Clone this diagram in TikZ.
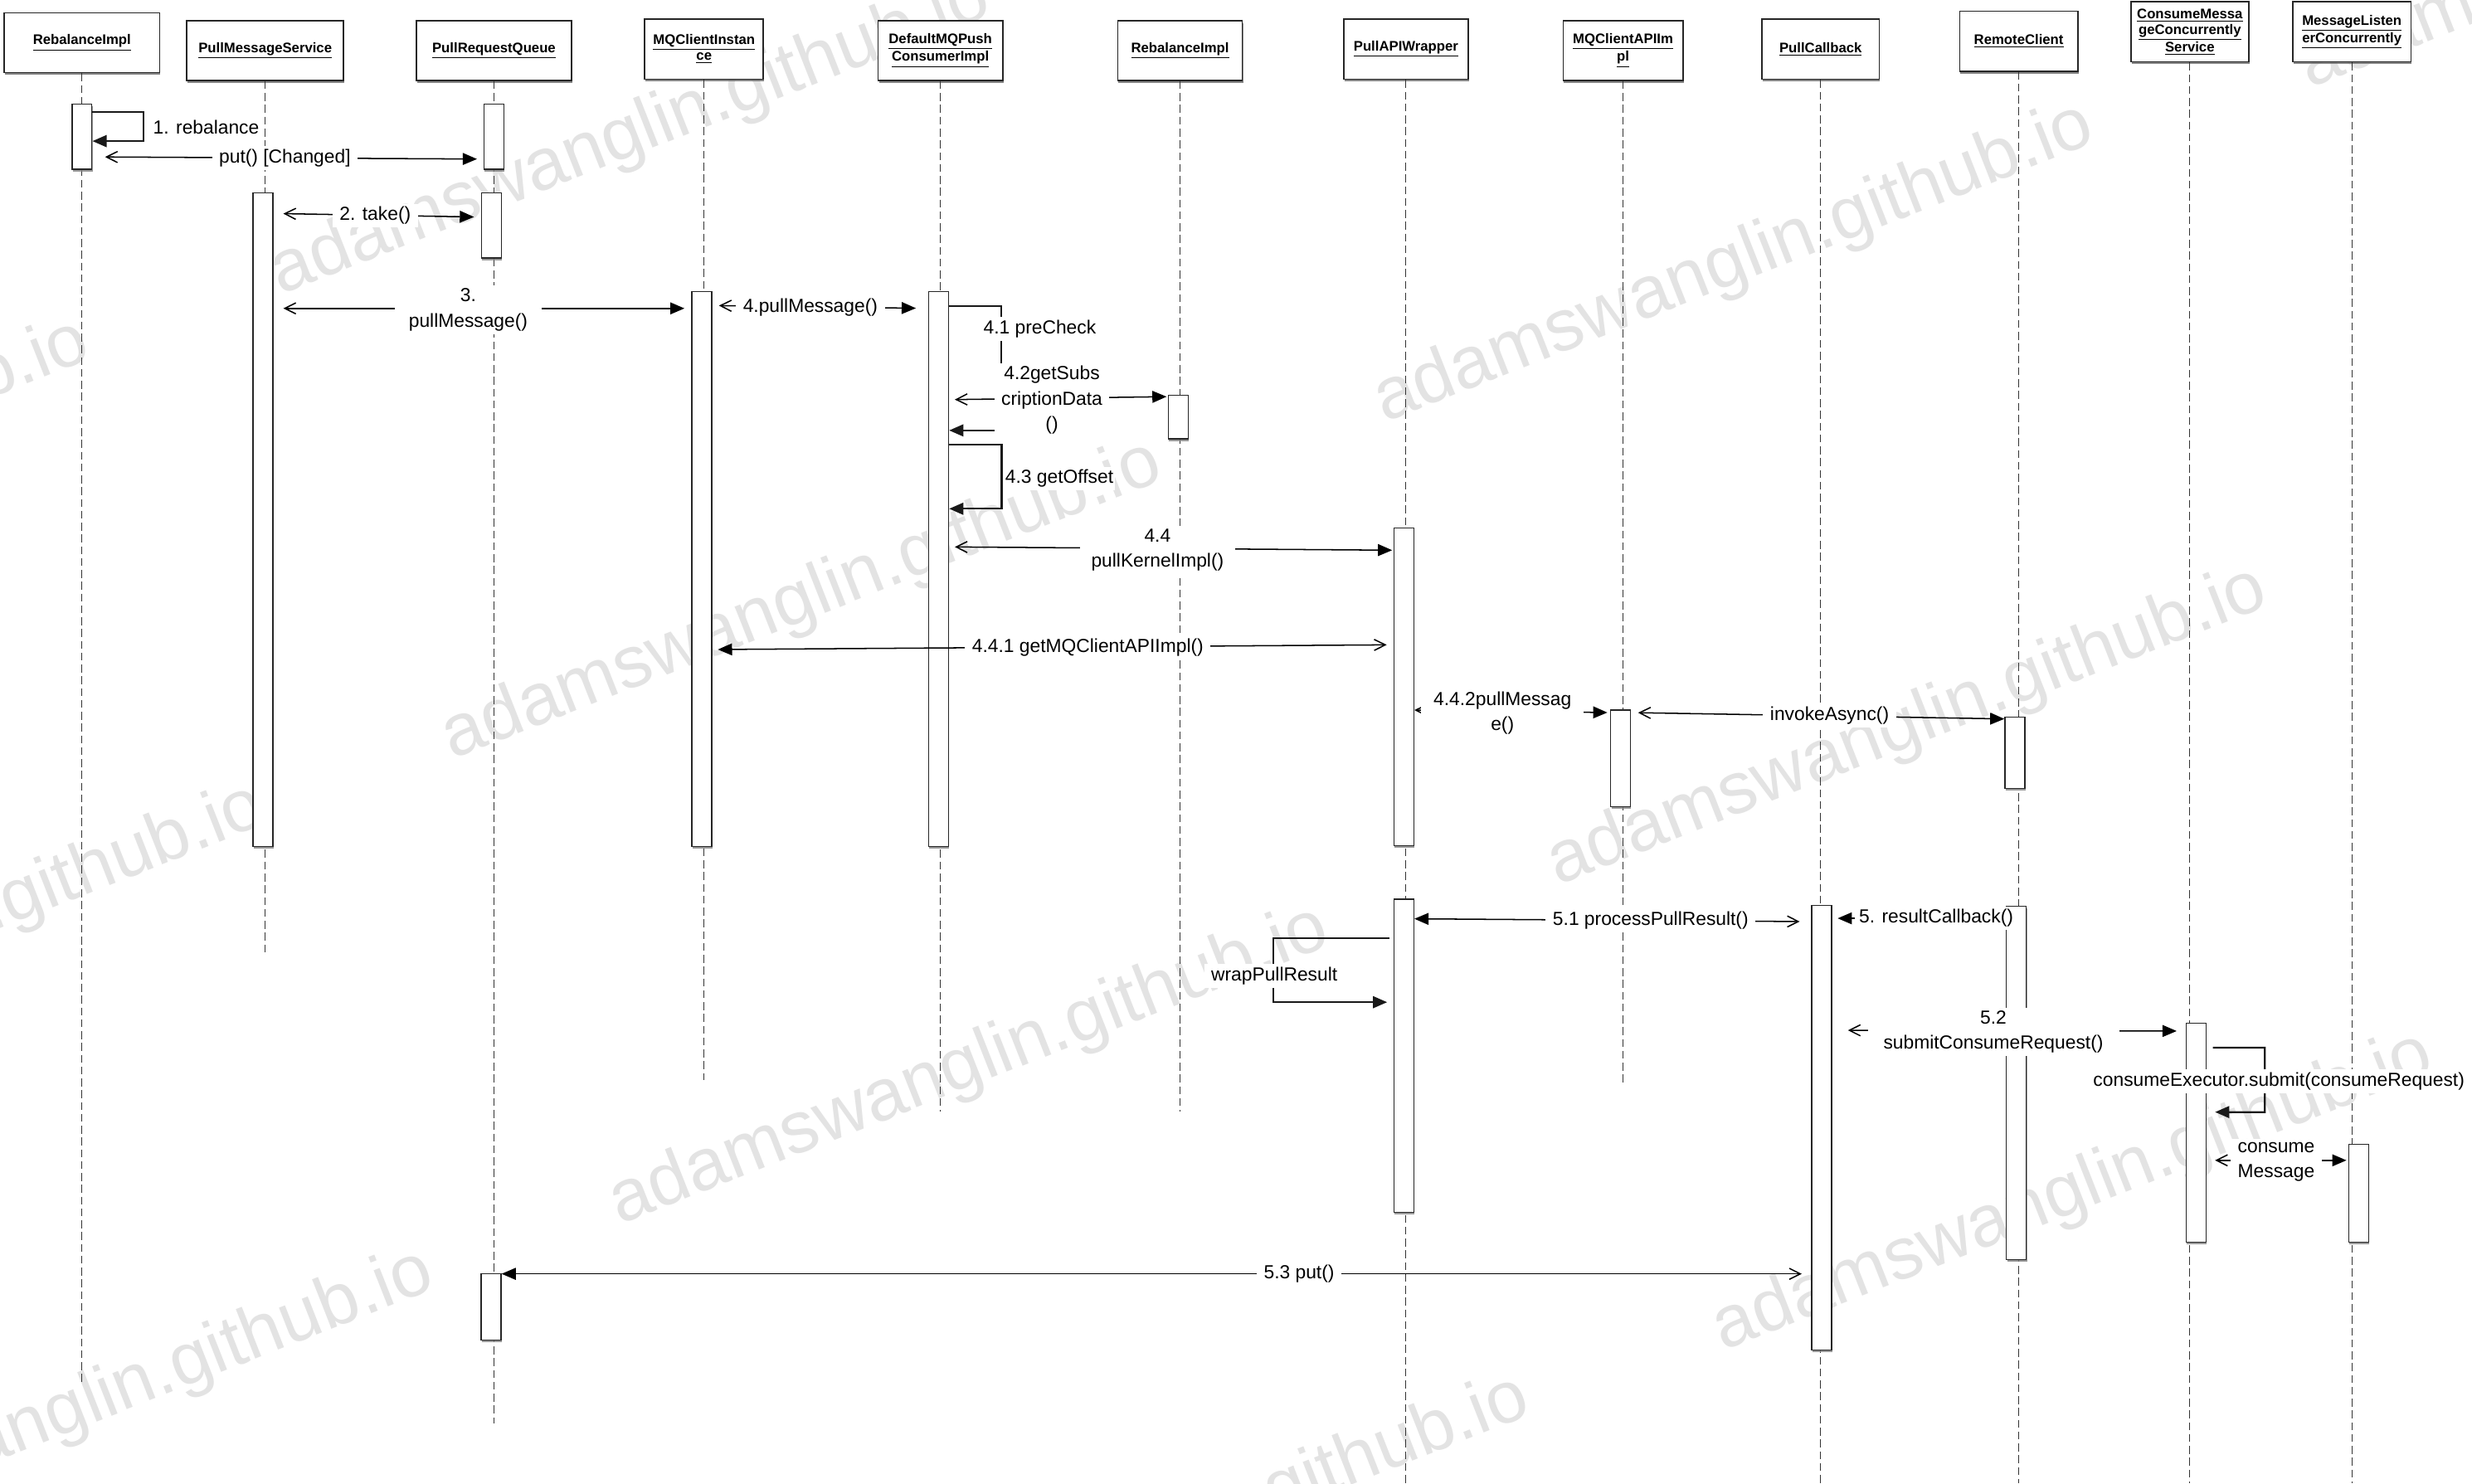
\documentclass[tikz,border=0pt]{standalone}
\usepackage{fontspec}
\setmainfont{Liberation Sans}
\usetikzlibrary{arrows.meta,shadows}
\newcommand\lblsize{\fontsize{12}{16}\selectfont}
\newcommand\hdrsize{\fontsize{8.8}{10}\selectfont\bfseries}
\newcommand\wmsize{\fontsize{46.5}{50}\selectfont}
\begin{document}
\begin{tikzpicture}[x=1pt,y=-1pt,
  hdr/.style={draw=black!85, line width=0.9pt, fill=white,
    drop shadow={shadow xshift=0.5pt, shadow yshift=-1.5pt, fill=black!60, opacity=0.8},
    minimum height=38pt, align=center, font=\hdrsize, inner sep=1pt},
  actbox/.style={draw=black!85, line width=0.7pt, fill=white,
    drop shadow={shadow xshift=0.4pt, shadow yshift=-1.3pt, fill=black!50, opacity=0.8},
    minimum width=12.6pt, inner sep=0pt},
  lifeline/.style={black!80, line width=0.5pt, dash pattern=on 5pt off 2.5pt},
  msg/.style={black, line width=0.8pt},
  selfcall/.style={black!90, line width=1.2pt, -{Triangle[length=9pt,width=7.5pt]}},
  FF/.style={-{Triangle[length=9pt,width=7.5pt]}},
  OF/.style={arrows={Straight Barb[length=7pt,width=7pt]-Triangle[length=9pt,width=7.5pt]}},
  FO/.style={arrows={Triangle[length=9pt,width=7.5pt]-Straight Barb[length=7pt,width=7pt]}},
  lbl/.style={fill=white, inner xsep=4.5pt, inner ysep=2pt, font=\lblsize, align=center},
  wm/.style={text=black!11, font=\wmsize, rotate=21.5, anchor=base west, inner sep=0pt}
]
\useasboundingbox (0,0) rectangle (1568,940.8);

% watermarks
\begin{scope}
\clip (0,0) rectangle (1568,940.8);
\foreach \x/\y [count=\i] in {178/187, 878/268, 287/482, 988/562, 393/777, 1093/857,
   -393/405, -282/700, -175/995, 520/1075, 1465/56}
  \node[wm] (wm\i) at (\x,\y) {adamswanglin.github.io};
\end{scope}

% headers
\node[hdr, minimum width=98.6pt] (h1) at (52,27.1) {\underline{RebalanceImpl}};
\node[hdr, minimum width=99.3pt] (h2) at (168.2,32.1) {\underline{PullMessageService}};
\node[hdr, minimum width=98.6pt] (h3) at (313.3,32.1) {\underline{PullRequestQueue}};
\node[hdr, minimum width=75.2pt] (h4) at (446.6,31.2) {\underline{MQClientInstan}\\\underline{ce}};
\node[hdr, minimum width=79pt] (h5) at (596.5,32.1) {\underline{DefaultMQPush}\\\underline{ConsumerImpl}};
\node[hdr, minimum width=79pt] (h6) at (748.5,32.1) {\underline{RebalanceImpl}};
\node[hdr, minimum width=78.8pt] (h7) at (891.8,31.2) {\underline{PullAPIWrapper}};
\node[hdr, minimum width=75.9pt] (h8) at (1029.5,32.1) {\underline{MQClientAPIIm}\\\underline{pl}};
\node[hdr, minimum width=74.5pt] (h9) at (1154.8,31.2) {\underline{PullCallback}};
\node[hdr, minimum width=75pt] (h10) at (1280.5,26.1) {\underline{RemoteClient}};
\node[hdr, minimum width=74.7pt] (h11) at (1389,20.2) {\underline{ConsumeMessa}\\\underline{geConcurrently}\\\underline{Service}};
\node[hdr, minimum width=74.9pt] (h12) at (1491.8,20.2) {\underline{MessageListen}\\\underline{erConcurrently}};

% lifelines
\draw[lifeline] (h1.south) -- (h1.south |- 0,878);
\draw[lifeline] (h2.south) -- (h2.south |- 0,605);
\draw[lifeline] (h3.south) -- (h3.south |- 0,903);
\draw[lifeline] (h4.south) -- (h4.south |- 0,685);
\draw[lifeline] (h5.south) -- (h5.south |- 0,705);
\draw[lifeline] (h6.south) -- (h6.south |- 0,705);
\draw[lifeline] (h7.south) -- (h7.south |- 0,941);
\draw[lifeline] (h8.south) -- (h8.south |- 0,687);
\draw[lifeline] (h9.south) -- (h9.south |- 0,941);
\draw[lifeline] (h10.south) -- (h10.south |- 0,941);
\draw[lifeline] (h11.south) -- (h11.south |- 0,941);
\draw[lifeline] (h12.south) -- (h12.south |- 0,941);

% activation boxes
\node[actbox, minimum height=41.4pt] (aR1) at (52,86.7) {};
\node[actbox, minimum height=41.4pt] (aQ1) at (313.2,86.7) {};
\node[actbox, minimum height=414.8pt] (aPMS) at (166.8,329.6) {};
\node[actbox, minimum height=41.5pt] (aQ2) at (311.7,142.95) {};
\node[actbox, minimum height=352pt] (aMQI) at (445.2,361) {};
\node[actbox, minimum height=352pt] (aD) at (595.4,361) {};
\node[actbox, minimum height=27.6pt] (aR2) at (747.3,264.6) {};
\node[actbox, minimum height=201.4pt] (aPW1) at (890.5,435.7) {};
\node[actbox, minimum height=198.6pt] (aPW2) at (890.5,669.7) {};
\node[actbox, minimum height=61.4pt] (aAPI) at (1028,481.1) {};
\node[actbox, minimum height=282.1pt] (aPC) at (1155.5,715.45) {};
\node[actbox, minimum height=45pt] (aRC1) at (1278,477.5) {};
\node[actbox, minimum height=224pt] (aRC2) at (1279,687) {};
\node[actbox, minimum height=139pt] (aCM) at (1393,718.5) {};
\node[actbox, minimum height=62pt] (aML) at (1496,757) {};
\node[actbox, minimum height=42pt] (aQ3) at (311.5,829) {};

% self calls
\draw[selfcall] (aR1.east |- 0,71) -- ++(32.2,0) -- ++(0,18.5) -- (aR1.east |- 0,89.5);
\draw[selfcall] (aD.east |- 0,194) -- ++(33,0) -- ++(0,79) -- (aD.east |- 0,273);
\draw[selfcall] (aD.east |- 0,282) -- ++(33.3,0) -- ++(0,40.7) -- (aD.east |- 0,322.7);
\draw[selfcall, shorten <=2.5pt, shorten >=4pt] (aPW2.west |- 0,595) -- ++(-76.3,0) -- ++(0,40.7) -- (aPW2.west |- 0,635.7);
\draw[selfcall, shorten <=4pt, shorten >=5.4pt] (aCM.east |- 0,664.6) -- ++(36.9,0) -- ++(0,40.8) -- (aCM.east |- 0,705.4);

% messages
\draw[msg,OF,shorten <=8pt,shorten >=4pt] (aR1.east |- 0,99.5) -- (aQ1.west |- 0,100.9);
\draw[msg,OF,shorten <=6.3pt,shorten >=4.4pt] (aPMS.east |- 0,135.4) -- (aQ2.west |- 0,137.7);
\draw[msg,OF,shorten <=6.3pt,shorten >=4.4pt] (aPMS.east |- 0,195.6) -- (aMQI.west |- 0,195.6);
\draw[msg,OF,shorten <=4.2pt,shorten >=7.8pt] (aMQI.east |- 0,193.8) -- (aD.west |- 0,195.6);
\draw[msg,OF,shorten <=3.6pt,shorten >=0.7pt] (aD.east |- 0,253.5) -- (aR2.west |- 0,251.6);
\draw[msg,OF,shorten <=3.6pt,shorten >=0.8pt] (aD.east |- 0,346.9) -- (aPW1.west |- 0,349);
\draw[msg,FO,shorten <=3.5pt,shorten >=4.3pt] (aMQI.east |- 0,412) -- (aPW1.west |- 0,409);
\draw[msg,OF,shorten >=1.8pt] (aPW1.east |- 0,450.4) -- (aAPI.west |- 0,452);
\draw[msg,OF,shorten <=4.4pt] (aAPI.east |- 0,452) -- (aRC1.west |- 0,456);
\draw[msg,FO,shorten >=7.3pt] (aPW2.east |- 0,582.8) -- (aPC.west |- 0,584.6);
\draw[msg,FF,shorten >=3.5pt] (aRC2.west |- 0,582.5) -- (aPC.east |- 0,582.5);
\draw[msg,OF,shorten <=10pt,shorten >=5.7pt] (aPC.east |- 0,653.5) -- (aCM.west |- 0,654);
\draw[msg,OF,shorten <=5.4pt,shorten >=1pt] (aCM.east |- 0,736) -- (aML.west |- 0,736);
\draw[msg,FO,shorten >=6pt] (aQ3.east |- 0,808) -- (aPC.west |- 0,808);

% labels
\node[lbl, anchor=west, fill=none] (l1) at (92.5,80.5) {1. rebalance};
\node[lbl] (lput) at (180.7,100.2) {put() [Changed]};
\node[lbl] (l2) at (238,136.8) {2. take()};
\node[lbl, inner xsep=9pt] (l3) at (297,196.4) {3.\\pullMessage()};
\node[lbl] (l4) at (514,195) {4.pullMessage()};
\node[lbl] (l41) at (659.5,208.5) {4.1 preCheck};
\node[lbl] (l42) at (667.2,253.8) {4.2getSubs\\criptionData\\()};
\node[lbl, anchor=west, inner xsep=1pt] (l43) at (636.5,303.6) {4.3 getOffset};
\node[lbl, inner xsep=7pt] (l44) at (734.2,348.9) {4.4\\pullKernelImpl()};
\node[lbl] (l441) at (690,410.5) {4.4.1 getMQClientAPIImpl()};
\node[lbl, inner xsep=8pt] (l442) at (953,452.3) {4.4.2pullMessag\\e()};
\node[lbl] (linv) at (1160.5,454) {invokeAsync()};
\node[lbl] (l51) at (1047,584) {5.1 processPullResult()};
\node[lbl, anchor=west, inner xsep=2.5pt] (l5) at (1176.5,582.5) {5. resultCallback()};
\node[lbl] (lwrap) at (808.3,619) {wrapPullResult};
\node[lbl, inner xsep=10pt] (l52) at (1264.4,654.5) {5.2\\submitConsumeRequest()};
\node[lbl, inner xsep=2pt] (lexec) at (1445.5,686) {consumeExecutor.submit(consumeRequest)};
\node[lbl] (lcons) at (1443.8,737) {consume\\Message};
\node[lbl] (l53) at (824,808) {5.3 put()};
\end{tikzpicture}
\end{document}
